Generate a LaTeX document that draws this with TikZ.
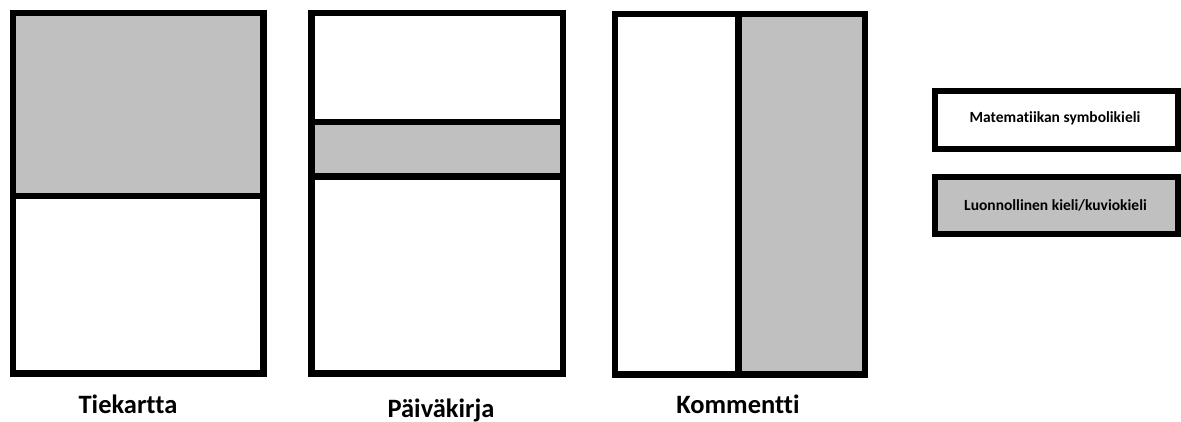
\documentclass[tikz,border=0pt]{standalone}
\usepackage{fontspec}
\setmainfont[RawFeature={-liga;-clig}]{Carlito}
\definecolor{panelgray}{HTML}{C0C0C0}
\begin{document}
\begin{tikzpicture}[x=1pt,y=-1pt,
  frame/.style={draw=black,line width=6.5pt},
  legendbox/.style={draw=black,line width=6pt},
  caption/.style={font=\bfseries\fontsize{26.5}{30}\selectfont,anchor=base,inner sep=0pt},
  legendtext/.style={font=\bfseries\fontsize{15.5}{18}\selectfont,anchor=base,inner sep=0pt}]
\useasboundingbox (0,0) rectangle (1181,422);
% Tiekartta
\fill[panelgray] (13,13) rectangle (263.5,196);
\draw[frame] (13,13) rectangle (263.5,373.5);
\draw[frame] (13,196) -- (263.5,196);
\node[caption] (t1) at (128,413) {Tiekartta};
% Paivakirja
\fill[panelgray] (311.25,122) rectangle (562.75,176.5);
\draw[frame] (311.25,13) rectangle (562.75,373.5);
\draw[frame] (311.25,122) -- (562.75,122);
\draw[frame] (311.25,176.5) -- (562.75,176.5);
\node[caption] (t2) at (441,417) {Päiväkirja};
% Kommentti
\fill[panelgray] (738.5,14) rectangle (865,374.5);
\draw[frame] (615,14) rectangle (865,374.5);
\draw[frame] (738.5,14) -- (738.5,374.5);
\node[caption] (t3) at (738,413) {Kommentti};
% Legend
\draw[legendbox,fill=white] (935,91) rectangle (1178,149);
\node[legendtext] (l1) at (1055,123) {Matematiikan symbolikieli};
\draw[legendbox,fill=panelgray] (935,177) rectangle (1178,234);
\node[legendtext] (l2) at (1055.5,211) {Luonnollinen kieli/kuviokieli};
\end{tikzpicture}
\end{document}
